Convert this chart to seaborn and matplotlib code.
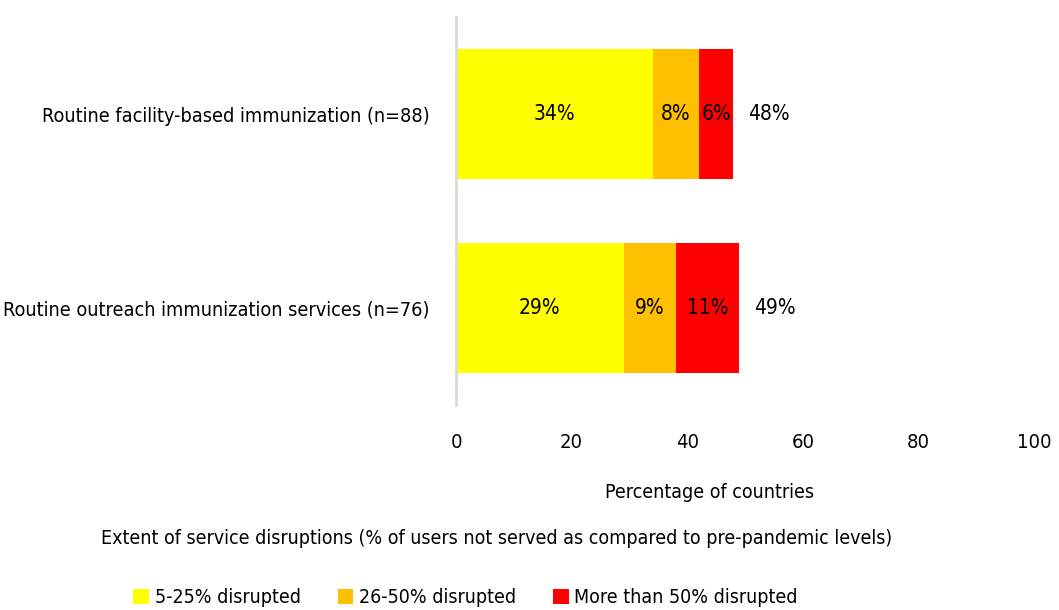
import matplotlib
matplotlib.use("Agg")
import matplotlib.pyplot as plt
import seaborn as sns
import pandas as pd
from matplotlib.patches import Patch

# data
services = ["Routine facility-based immunization (n=88)",
            "Routine outreach immunization services (n=76)"]
low = [34, 29]      # 5-25% disrupted
mid = [8, 9]        # 26-50% disrupted
high = [6, 11]      # more than 50% disrupted
series_names = ["5-25% disrupted", "26-50% disrupted", "More than 50% disrupted"]
colors = ["#FFFF00", "#FFC000", "#FF0000"]
x_ticks = [0, 20, 40, 60, 80, 100]

sns.set_theme(style="white")
plt.rcParams['font.family'] = ['DejaVu Sans']
plt.rcParams['font.stretch'] = 'condensed'
plt.rcParams['text.color'] = 'black'
plt.rcParams['xtick.color'] = 'black'
plt.rcParams['ytick.color'] = 'black'

df = pd.DataFrame({"service": services, "low": low, "mid": mid, "high": high})
df["c1"] = df["low"]
df["c2"] = df["low"] + df["mid"]
df["c3"] = df["c2"] + df["high"]

fig = plt.figure(figsize=(10.59, 6.10), dpi=100)
ax = fig.add_axes([0.4306, 0.336, 0.5458, 0.636])

# draw cumulative layers, longest first so the shorter ones sit on top
for col, color in zip(["c3", "c2", "c1"], colors[::-1]):
    sns.barplot(data=df, x=col, y="service", color=color, width=0.667,
                saturation=1, linewidth=0, ax=ax)

# segment labels
for i, row in df.iterrows():
    starts = [0, row["c1"], row["c2"]]
    for s, v in zip(starts, [row["low"], row["mid"], row["high"]]):
        ax.text(s + v / 2, i, f"{v}%", ha="center", va="center", fontsize=15)
    ax.text(row["c3"] + 2.6, i, f"{row['c3']}%", ha="left", va="center", fontsize=15)

ax.set_xlim(0, 100)
ax.set_xticks(x_ticks)
ax.set_xlabel("")
ax.set_ylabel("")
ax.tick_params(axis="x", length=0, pad=20, labelsize=14.5)
ax.tick_params(axis="y", length=0, pad=19, labelsize=14.2)
for s in ["top", "right", "bottom"]:
    ax.spines[s].set_visible(False)
ax.spines["left"].set_color("#D9D9D9")
ax.spines["left"].set_linewidth(2)

fig.text(0.670, 0.193, "Percentage of countries", ha="center", va="center", fontsize=14)
fig.text(0.095, 0.118, "Extent of service disruptions (% of users not served as compared to pre-pandemic levels)",
         ha="left", va="center", fontsize=14)

handles = [Patch(facecolor=c, edgecolor="none") for c in colors]
fig.legend(handles, series_names, ncol=3, loc="center left", bbox_to_anchor=(0.1185, 0.02),
           frameon=False, fontsize=14, handlelength=0.8, handleheight=0.8,
           handletextpad=0.3, columnspacing=1.9, borderaxespad=0)

fig.savefig("out.png", dpi=100)
